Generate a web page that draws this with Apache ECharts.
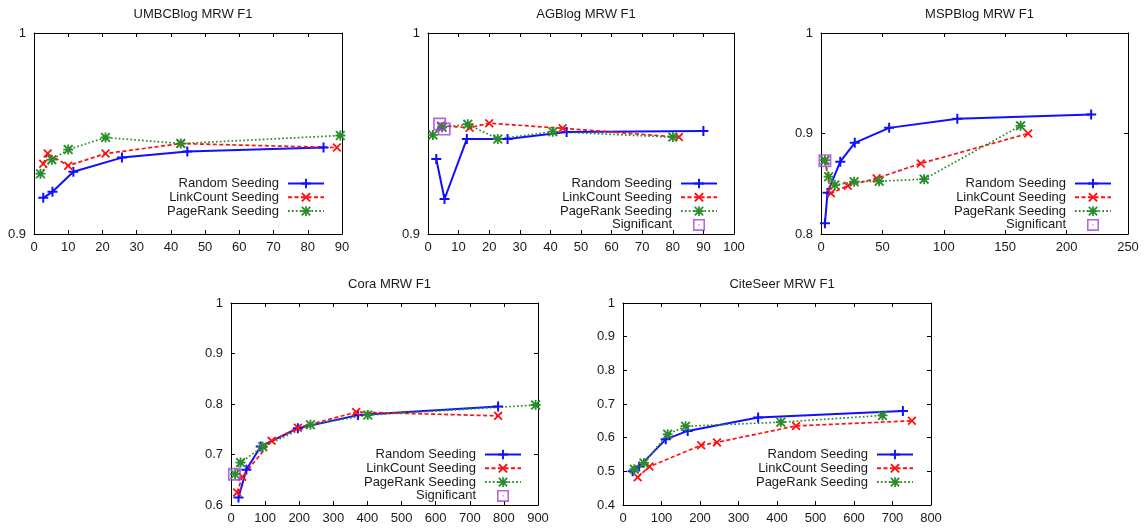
<!DOCTYPE html>
<html>
<head>
<meta charset="utf-8">
<script src="https://cdn.jsdelivr.net/npm/echarts@6/dist/echarts.min.js"></script>
<style>
  html, body { margin: 0; padding: 0; background: #fff; }
  #chart { width: 1147px; height: 529px; }
</style>
</head>
<body>
<div id="chart"></div>
<script>
// ---- data: [seed count, MRW F1] per seeding strategy ----
const titles = ['UMBCBlog MRW F1', 'AGBlog MRW F1', 'MSPBlog MRW F1', 'Cora MRW F1', 'CiteSeer MRW F1'];

const umbcRandom    = [[2.7, 0.918], [5.4, 0.921], [11.5, 0.931], [25.7, 0.938], [44.8, 0.941], [84.6, 0.943]];
const umbcLinkCount = [[2.7, 0.935], [4.0, 0.940], [10, 0.934], [20.9, 0.940], [42.9, 0.945], [88.5, 0.943]];
const umbcPageRank  = [[1.9, 0.930], [5.2, 0.937], [10, 0.942], [20.9, 0.948], [42.9, 0.945], [89.5, 0.949]];

const agRandom      = [[2.7, 0.9373], [5.4, 0.9174], [12.7, 0.9473], [26, 0.9473], [45.3, 0.9508], [90, 0.9512]];
const agLinkCount   = [[4.2, 0.9539], [13.6, 0.9529], [20, 0.9551], [44, 0.9526], [82, 0.9482]];
const agPageRank    = [[1.6, 0.9493], [4.6, 0.9531], [13, 0.9546], [22.8, 0.9473], [40.8, 0.9509], [80, 0.9482]];
const agSignificant = [[3.8, 0.9547], [5.3, 0.9522]];

const mspRandom      = [[3.2, 0.8106], [5.3, 0.8411], [15.7, 0.872], [27.5, 0.8907], [55.5, 0.9056], [111, 0.9146], [220, 0.9189]];
const mspLinkCount   = [[3.2, 0.873], [8.1, 0.8405], [21.8, 0.848], [45.3, 0.8554], [81.3, 0.8702], [168.7, 0.900]];
const mspPageRank    = [[3.2, 0.8735], [6.2, 0.857], [11.3, 0.8487], [27, 0.852], [47.4, 0.8525], [84, 0.8546], [162.5, 0.9076]];
const mspSignificant = [[3.2, 0.873]];

const coraRandom      = [[22, 0.615], [45, 0.670], [87, 0.716], [196, 0.752], [372, 0.778], [783, 0.795]];
const coraLinkCount   = [[18, 0.625], [33, 0.656], [119, 0.727], [196, 0.753], [367, 0.784], [783, 0.7765]];
const coraPageRank    = [[12, 0.661], [28, 0.684], [93, 0.7155], [233, 0.759], [401, 0.778], [893, 0.798]];
const coraSignificant = [[10, 0.661]];

const citeRandom    = [[25, 0.500], [42, 0.514], [111, 0.595], [168, 0.620], [351, 0.660], [727, 0.679]];
const citeLinkCount = [[38, 0.4824], [68.5, 0.514], [203, 0.5776], [244, 0.586], [449.5, 0.635], [750.5, 0.650]];
const citePageRank  = [[29.5, 0.5065], [54.3, 0.525], [116, 0.610], [162.5, 0.634], [410, 0.646], [674, 0.666]];

// axis ranges: [xMin, xMax, xStep, yMin, yMax, yStep]
const axisRanges = [
  [0, 90, 10, 0.9, 1, 0.1],
  [0, 100, 10, 0.9, 1, 0.1],
  [0, 250, 50, 0.8, 1, 0.1],
  [0, 900, 100, 0.6, 1, 0.1],
  [0, 800, 100, 0.4, 1, 0.1]
];

const panelData = [
  { random: umbcRandom, link: umbcLinkCount, page: umbcPageRank, sig: null },
  { random: agRandom, link: agLinkCount, page: agPageRank, sig: agSignificant },
  { random: mspRandom, link: mspLinkCount, page: mspPageRank, sig: mspSignificant },
  { random: coraRandom, link: coraLinkCount, page: coraPageRank, sig: coraSignificant },
  { random: citeRandom, link: citeLinkCount, page: citePageRank, sig: null }
];

// ---- layout ----
const grids = [
  { left: 34, top: 33, width: 308, height: 201 },
  { left: 428, top: 33, width: 306, height: 201 },
  { left: 821, top: 33, width: 307, height: 201 },
  { left: 231, top: 303, width: 307, height: 202 },
  { left: 623, top: 303, width: 308, height: 202 }
];
const legendPos = [
  { right: 822, top: 177 },
  { right: 429, top: 177 },
  { right: 35, top: 177 },
  { right: 625, top: 448 },
  { right: 233, top: 448 }
];

const FONT = 'Liberation Sans, Arial, Helvetica, sans-serif';
const TXT = '#1a1a1a';
const BLUE = '#1010ff', RED = '#ff1010', GREEN = '#2a8c2a', PURPLE = '#a040e0';

// point glyphs
const PLUS = 'path://M4,0H6V10H4Z M0,4H10V6H0Z';
const CROSS = 'path://M0,1.4L1.4,0L10,8.6L8.6,10Z M8.6,0L10,1.4L1.4,10L0,8.6Z';
const STAR = 'path://M4.1,0H5.9V10H4.1Z M0,4.1H10V5.9H0Z M0,1.3L1.3,0L10,8.7L8.7,10Z M8.7,0L10,1.3L1.3,10L0,8.7Z';
const BOX = 'path://M0,0H10V10H0Z M1.3,1.3V8.7H8.7V1.3Z M4.5,4.5H5.5V5.5H4.5Z';

const title = [], grid = [], xAxis = [], yAxis = [], series = [], legend = [];

titles.forEach((t, i) => {
  const g = grids[i];
  title.push({
    text: t, left: g.left + g.width / 2, top: g.top - 30, textAlign: 'center',
    textStyle: { fontFamily: FONT, fontSize: 13, fontWeight: 'normal', color: TXT }
  });
  grid.push(Object.assign({ containLabel: false }, g));

  const [x0, x1, xs, y0, y1, ys] = axisRanges[i];
  const line = { show: true, onZero: false, lineStyle: { color: '#000', width: 1 } };
  const tick = { show: true, inside: true, length: 4, lineStyle: { color: '#000', width: 1 } };
  const lab = { fontFamily: FONT, fontSize: 13, color: TXT };
  xAxis.push({ type: 'value', gridIndex: i, position: 'bottom', min: x0, max: x1, interval: xs,
    axisLine: line, axisTick: tick, splitLine: { show: false }, axisLabel: Object.assign({ margin: 7 }, lab) });
  xAxis.push({ type: 'value', gridIndex: i, position: 'top', min: x0, max: x1, interval: xs,
    axisLine: line, axisTick: tick, splitLine: { show: false }, axisLabel: { show: false } });
  yAxis.push({ type: 'value', gridIndex: i, position: 'left', min: y0, max: y1, interval: ys,
    axisLine: line, axisTick: tick, splitLine: { show: false }, axisLabel: Object.assign({ margin: 8 }, lab) });
  yAxis.push({ type: 'value', gridIndex: i, position: 'right', min: y0, max: y1, interval: ys,
    axisLine: line, axisTick: tick, splitLine: { show: false }, axisLabel: { show: false } });

  const p = panelData[i];
  const common = { type: 'line', xAxisIndex: 2 * i, yAxisIndex: 2 * i, showSymbol: true, symbolSize: 10, animation: false };
  series.push(Object.assign({}, common, { name: 'Random Seeding', data: p.random, symbol: PLUS,
    itemStyle: { color: BLUE }, lineStyle: { color: BLUE, width: 2 } }));
  series.push(Object.assign({}, common, { name: 'LinkCount Seeding', data: p.link, symbol: CROSS, symbolSize: 9,
    itemStyle: { color: RED }, lineStyle: { color: RED, width: 1.7, type: [4, 2.5] } }));
  series.push(Object.assign({}, common, { name: 'PageRank Seeding', data: p.page, symbol: STAR,
    itemStyle: { color: GREEN }, lineStyle: { color: GREEN, width: 1.7, type: [1.7, 2.2] } }));
  const names = ['Random Seeding', 'LinkCount Seeding', 'PageRank Seeding'];
  if (p.sig) {
    series.push({ type: 'scatter', name: 'Significant', xAxisIndex: 2 * i, yAxisIndex: 2 * i,
      data: p.sig, symbol: BOX, symbolSize: 13, itemStyle: { color: PURPLE }, z: 5, animation: false });
    names.push('Significant');
  }
  legend.push({
    data: names, orient: 'vertical', align: 'right', right: legendPos[i].right, top: legendPos[i].top,
    padding: 0, itemWidth: 36, itemHeight: 12, itemGap: 0.8, selectedMode: false,
    textStyle: { fontFamily: FONT, fontSize: 13, color: TXT, lineHeight: 12, padding: [0, 4, 0, 0] }
  });
});

const chart = echarts.init(document.getElementById('chart'), null, { renderer: 'canvas' });
chart.setOption({ backgroundColor: '#fff', animation: false, title, grid, xAxis, yAxis, series, legend });
</script>
</body>
</html>
